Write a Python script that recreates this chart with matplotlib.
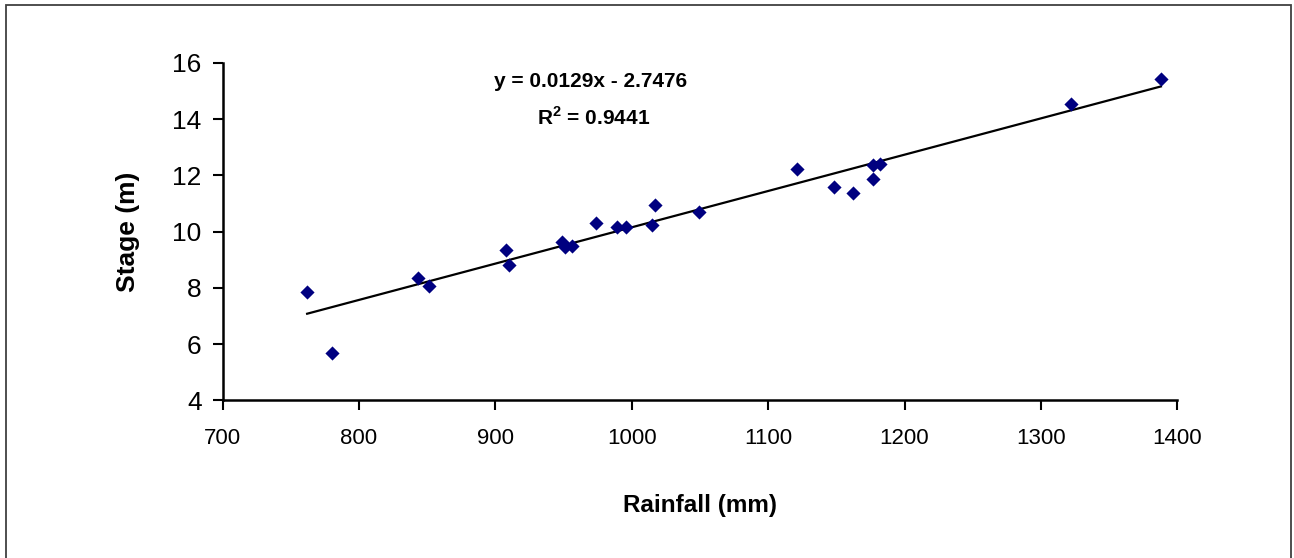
import numpy as np
import matplotlib.pyplot as plt
from matplotlib.patches import Rectangle

# rainfall (mm) and stage (m)
rainfall = [762, 780, 843, 851, 908, 910, 949, 951, 956, 974, 989, 996,
            1015, 1017, 1049, 1121, 1148, 1162, 1177, 1177, 1182, 1322, 1388]
stage = [7.85, 5.69, 8.35, 8.05, 9.35, 8.82, 9.64, 9.47, 9.50, 10.30, 10.18, 10.16,
         10.24, 10.95, 10.71, 12.23, 11.59, 11.38, 11.87, 12.36, 12.39, 14.52, 15.43]

slope = 0.0129
intercept = -2.7476
r2 = 0.9441

x_ticks = [700, 800, 900, 1000, 1100, 1200, 1300, 1400]
y_ticks = [4, 6, 8, 10, 12, 14, 16]

plt.rcParams['font.family'] = ['Liberation Sans', 'DejaVu Sans']
plt.rcParams['mathtext.fontset'] = 'custom'
plt.rcParams['mathtext.bf'] = 'Liberation Sans:bold'

fig = plt.figure(figsize=(12.94, 5.58), dpi=100)
fig.patch.set_facecolor('white')

# outer chart border
fig.patches.append(Rectangle((6 / 1294, -0.01), 1285 / 1294, 1.01 - 5 / 558,
                             transform=fig.transFigure, fill=False,
                             edgecolor='#404040', linewidth=1.3, clip_on=False))

ax = fig.add_axes([0.1720, 0.2823, 0.7378, 0.6053])

ax.scatter(rainfall, stage, marker='D', s=52, color='#000080', zorder=3, linewidths=0)

xs = np.array([min(rainfall), max(rainfall)])
ax.plot(xs, slope * xs + intercept, color='black', linewidth=1.6, zorder=2)

# trendline label
ax.text(970, 15.34, f'y = {slope}x - {abs(intercept)}', ha='center', va='center',
        fontsize=15, fontweight='bold')
ax.text(972, 14.05, r'R$^\mathbf{2}$' + f' = {r2}', ha='center', va='center',
        fontsize=15, fontweight='bold')

ax.set_xlim(700, 1400)
ax.set_ylim(4, 16)
ax.set_xticks(x_ticks)
ax.set_yticks(y_ticks)
ax.tick_params(axis='x', direction='out', length=7, width=1.5, labelsize=16, pad=13)
ax.tick_params(axis='y', direction='out', length=7, width=1.5, labelsize=19, pad=8)

for side in ['top', 'right']:
    ax.spines[side].set_visible(False)
for side in ['left', 'bottom']:
    ax.spines[side].set_linewidth(1.8)

ax.set_xlabel('Rainfall (mm)', fontsize=17.5, fontweight='bold', labelpad=32)
ax.set_ylabel('Stage (m)', fontsize=19, fontweight='bold', labelpad=23)

fig.savefig('out.png', dpi=100)
